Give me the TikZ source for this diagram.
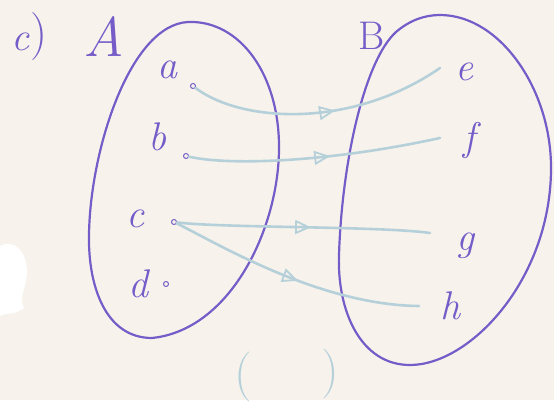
\documentclass[tikz,border=0pt]{standalone}
\usetikzlibrary{arrows.meta,decorations.markings}
\definecolor{ink}{RGB}{118,92,200}
\definecolor{pale}{RGB}{182,208,218}
\definecolor{paper}{RGB}{247,243,236}
\begin{document}
\begin{tikzpicture}[x=1pt,y=-1pt,
  lbl/.style={text=ink,font=\fontsize{40}{44}\selectfont\itshape,inner sep=0pt},
  biglbl/.style={text=ink,font=\fontsize{56}{60}\selectfont\itshape,inner sep=0pt},
  paren/.style={text=pale,font=\fontsize{50}{54}\selectfont,inner sep=0pt},
  elem/.style={circle,draw=ink,line width=1pt,minimum size=5pt,inner sep=0pt},
  setline/.style={draw=ink,line width=2.2pt,line join=round},
  maparrow/.style={draw=pale,line width=2.6pt,line cap=round,postaction={decorate},
    decoration={markings,mark=at position #1 with {\arrow{Triangle[open,length=16pt,width=14pt,line width=1.8pt,color=pale]}}}},
  maparrow/.default=0.55
]
% paper
\fill[paper] (0,0) rectangle (554,400);
% punched hole
\fill[white] (0,246) .. controls (14,238) and (27,252) .. (27,272)
  .. controls (27,288) and (18,296) .. (24,308) .. controls (14,316) and (6,312) .. (0,316) -- cycle;

% labels c)
\node[lbl] (clab) at (20,42) {c};
\node[text=ink,font=\fontsize{48}{52}\selectfont,inner sep=0pt] (cpar) at (39,37) {)};

% set A
\draw[setline] (188,22) .. controls (240,20) and (280,75) .. (279,150)
  .. controls (278,230) and (230,330) .. (152,338)
  .. controls (105,338) and (88,285) .. (89,235)
  .. controls (90,150) and (130,25) .. cycle;
\node[biglbl] (Alab) at (104,37) {A};

% set B
\draw[setline] (440,15) .. controls (500,15) and (552,90) .. (551,170)
  .. controls (550,280) and (470,365) .. (410,365)
  .. controls (360,365) and (337,310) .. (339,255)
  .. controls (342,160) and (365,60) .. (396,32)
  .. controls (410,20) and (425,15) .. cycle;
\node[lbl,font=\fontsize{40}{44}\selectfont] (Blab) at (372,36) {B};

% elements of A
\node[lbl] (la) at (167,70) {a};
\node[lbl] (lb) at (157,137) {b};
\node[lbl] (lc) at (135,219) {c};
\node[lbl] (ld) at (138,284) {d};
\node[elem] (pa) at (193,86) {};
\node[elem] (pb) at (186,156) {};
\node[elem] (pc) at (174,222) {};
\node[elem] (pd) at (166,284) {};

% elements of B
\node[lbl] (le) at (464,72) {e};
\node[lbl] (lf) at (469,141) {f};
\node[lbl] (lg) at (465,246) {g};
\node[lbl] (lh) at (450,306) {h};
\coordinate (pe) at (440,68);
\coordinate (pf) at (440,138);
\coordinate (pg) at (430,233);
\coordinate (ph) at (419,306);

% mapping arrows
\draw[maparrow=0.56] (pa) .. controls (240,122) and (350,130) .. (pe);
\draw[maparrow=0.56] (pb) .. controls (230,166) and (330,162) .. (pf);
\draw[maparrow=0.53] (pc) .. controls (220,228) and (380,226) .. (pg);
\draw[maparrow=0.52] (pc) .. controls (220,245) and (320,305) .. (ph);

% bottom parentheses
\node[paren] (lp) at (243,377) {(};
\node[paren] (rp) at (330,374) {)};
\end{tikzpicture}
\end{document}
